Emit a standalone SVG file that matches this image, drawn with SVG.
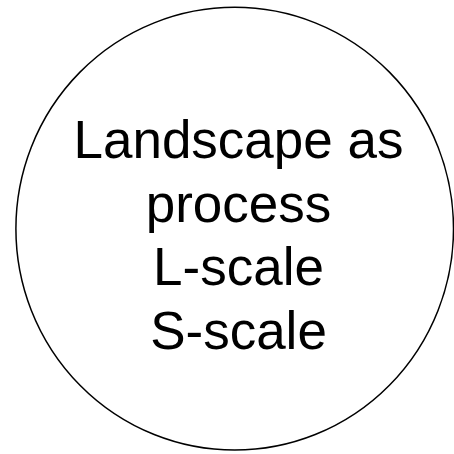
<svg xmlns="http://www.w3.org/2000/svg" width="454" height="454" viewBox="0 0 454 454">
<style>
.n{fill:#fff;stroke:#000;stroke-width:1.5}
.t{font-family:"Liberation Sans",Arial,sans-serif;font-size:53px;fill:#000;text-anchor:middle}
</style>
<rect width="454" height="454" fill="#fff"/>
<g id="node1">
<ellipse class="n" cx="234.7" cy="228.7" rx="218.8" ry="221.4"/>
<text class="t" x="238.5" y="158">Landscape as</text>
<text class="t" x="238.5" y="221.6">process</text>
<text class="t" x="238.5" y="285.2">L-scale</text>
<text class="t" x="238.5" y="348.8">S-scale</text>
</g>
<g id="connectors"/>
</svg>
